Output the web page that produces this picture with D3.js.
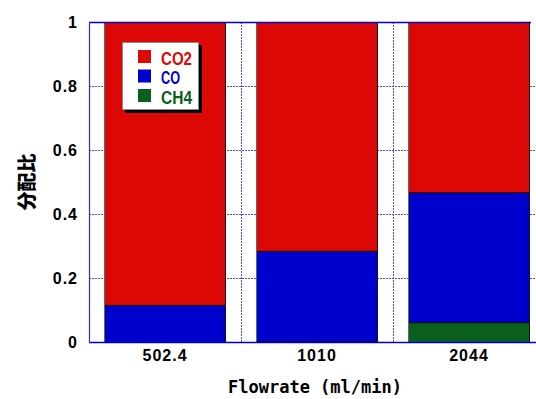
<!DOCTYPE html>
<html><head><meta charset="utf-8">
<script src="https://cdn.jsdelivr.net/npm/d3@7"></script>
<style>body{margin:0;background:#fff}svg{display:block}</style>
</head><body>
<script>
const categories = ["502.4", "1010", "2044"];
const ch4 = [0, 0.003, 0.062];
const co = [0.116, 0.282, 0.406];
const co2 = [0.884, 0.715, 0.532];
const seriesNames = ["CH4", "CO", "CO2"];
const yTicks = [0, 0.2, 0.4, 0.6, 0.8, 1];
const legendOrder = ["CO2", "CO", "CH4"];

(function () {
const colors = {CO2: "#dc0806", CO: "#0000cc", CH4: "#0a5e1e"};
const W = 536, H = 399;
const pLeft = 89, pTop = 22, pBottom = 342, rightVis = 531;

const svg = d3.select("body").append("svg").attr("width", W).attr("height", H);

const x = d3.scaleBand().domain(categories).range([pLeft, 545]).paddingInner(30/152).paddingOuter(15/152);
const y = d3.scaleLinear().domain([0, 1]).range([pBottom, pTop]);

const rows = categories.map((c, i) => ({cat: c, CH4: ch4[i], CO: co[i], CO2: co2[i]}));
const stacked = d3.stack().keys(seriesNames)(rows);

// grid
const grid = svg.append("g").attr("stroke", "#4a4ae8").attr("stroke-width", 1).attr("stroke-dasharray", "2,1");
grid.selectAll("line.h").data(yTicks.filter(t => t > 0 && t < 1)).enter().append("line")
  .attr("x1", pLeft).attr("x2", W).attr("y1", d => Math.round(y(d)) + 0.5).attr("y2", d => Math.round(y(d)) + 0.5);
const bounds = categories.slice(1).map(c => x(c) - x.step() * x.paddingInner() / 2);
grid.selectAll("line.v").data(bounds).enter().append("line")
  .attr("x1", d => Math.round(d) + 0.5).attr("x2", d => Math.round(d) + 0.5).attr("y1", pTop).attr("y2", pBottom);

// bars
svg.append("clipPath").attr("id", "pc").append("rect").attr("x", pLeft).attr("y", 0).attr("width", rightVis - pLeft).attr("height", H);
const barsG = svg.append("g").attr("clip-path", "url(#pc)");
stacked.forEach(s => {
  barsG.selectAll(null).data(s.filter(d => d[1] - d[0] > 0)).enter().append("rect")
    .attr("x", d => x(d.data.cat) + 0.5)
    .attr("y", d => y(d[1]) + 0.5)
    .attr("width", x.bandwidth() - 1)
    .attr("height", d => Math.max(0.5, y(d[0]) - y(d[1])))
    .attr("fill", colors[s.key])
    .attr("stroke", "#111").attr("stroke-width", 1);
});
barsG.selectAll("line.le").data(categories).enter().append("line")
  .attr("x1", d => x(d) + 0.5).attr("x2", d => x(d) + 0.5)
  .attr("y1", pTop).attr("y2", pBottom).attr("stroke", "#666").attr("stroke-width", 1);

// axes lines
svg.append("line").attr("x1", pLeft).attr("x2", rightVis).attr("y1", pTop + 0.5).attr("y2", pTop + 0.5).attr("stroke", "#0000cc").attr("stroke-width", 1.5);
svg.append("line").attr("x1", pLeft).attr("x2", W).attr("y1", pBottom + 0.5).attr("y2", pBottom + 0.5).attr("stroke", "#0000cc").attr("stroke-width", 1.5);
svg.append("line").attr("x1", pLeft + 0.5).attr("x2", pLeft + 0.5).attr("y1", pTop).attr("y2", pBottom + 1).attr("stroke", "#2a2ae0").attr("stroke-width", 1.2);

// y axis labels
const yAxis = d3.axisLeft(y).tickValues(yTicks).tickFormat(d => d === 0 ? "0" : d === 1 ? "1" : d3.format(".1f")(d)).tickSize(0).tickPadding(11);
const ya = svg.append("g").attr("transform", `translate(${pLeft},0)`).call(yAxis);
ya.select(".domain").remove();
ya.selectAll("text").attr("font-family", "Liberation Sans, Arial, sans-serif").attr("font-weight", "bold")
  .attr("font-size", 16).attr("letter-spacing", "1px").attr("fill", "#000");

// x axis labels
const xAxis = d3.axisBottom(x).tickSize(0).tickPadding(8);
const xa = svg.append("g").attr("transform", `translate(0,${pBottom})`).call(xAxis);
xa.select(".domain").remove();
xa.selectAll("text").attr("font-family", "Liberation Sans, Arial, sans-serif").attr("font-weight", "bold")
  .attr("font-size", 16).attr("letter-spacing", "1px").attr("fill", "#000");

// axis titles
svg.append("text").attr("x", 315).attr("y", 393).attr("text-anchor", "middle")
  .attr("font-family", "DejaVu Sans Mono, monospace").attr("font-weight", "bold").attr("font-size", 17)
  .text("Flowrate (ml/min)");
svg.append("text").attr("transform", "translate(34,182) rotate(-90)").attr("text-anchor", "middle")
  .attr("font-family", "Noto Sans CJK JP, sans-serif").attr("font-weight", 900).attr("font-size", 19)
  .text("分配比");

// legend
const legendWidths = {CO2: 31, CO: 19, CH4: 31};
const lg = svg.append("g");
lg.append("rect").attr("x", 125).attr("y", 45).attr("width", 77).attr("height", 68).attr("fill", "#000");
lg.append("rect").attr("x", 122.5).attr("y", 42.5).attr("width", 76).attr("height", 67).attr("fill", "#fff").attr("stroke", "#888").attr("stroke-width", 1);
legendOrder.forEach((k, i) => {
  const yy = 50 + i * 19.5;
  lg.append("rect").attr("x", 138).attr("y", yy).attr("width", 13).attr("height", 13).attr("fill", colors[k]);
  lg.append("text").attr("x", 161).attr("y", yy + 14.5).attr("fill", colors[k])
    .attr("font-family", "Liberation Sans, Arial, sans-serif").attr("font-weight", "bold").attr("font-size", 19)
    .attr("textLength", legendWidths[k]).attr("lengthAdjust", "spacingAndGlyphs")
    .text(k);
});
})();
</script>
</body></html>
